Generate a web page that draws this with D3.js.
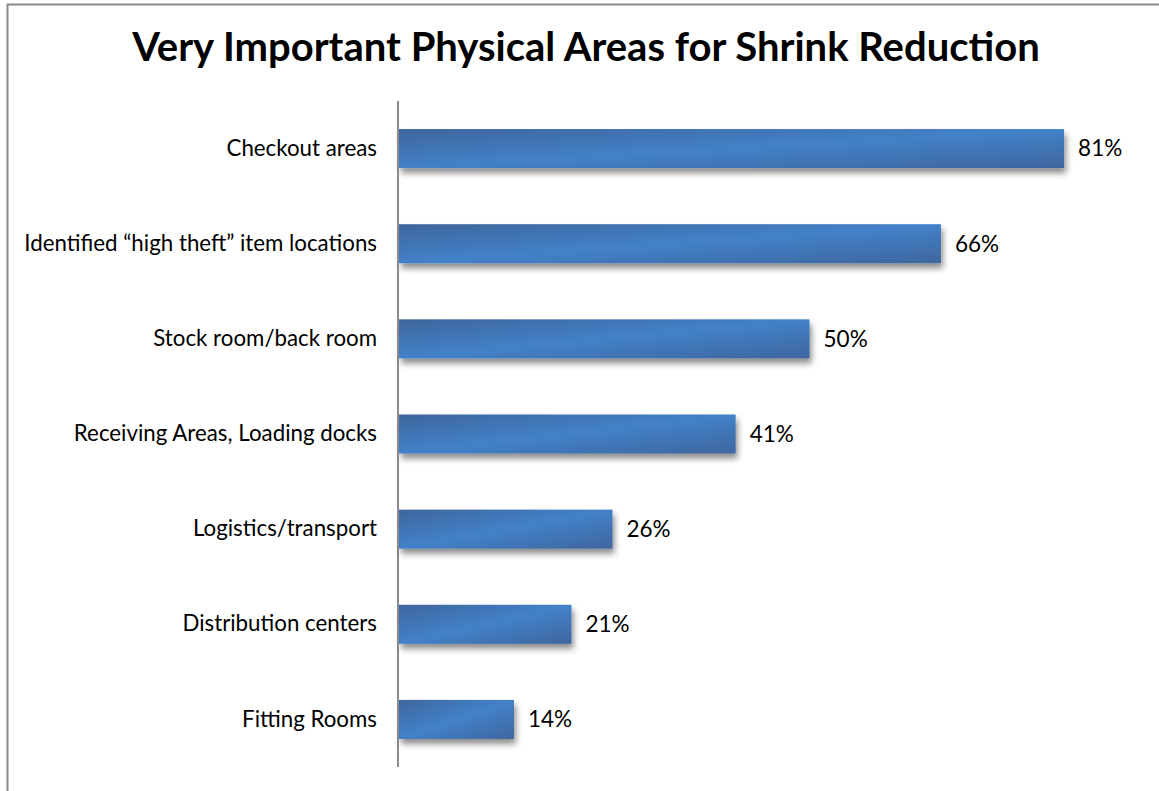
<!DOCTYPE html>
<html>
<head>
<meta charset="utf-8">
<script src="https://cdn.jsdelivr.net/npm/d3@7"></script>
<style>
  html, body { margin: 0; padding: 0; background: #fff; }
  svg { display: block; }
</style>
</head>
<body>
<svg id="chart" width="1159" height="791"></svg>
<script>
// Survey results: share of respondents rating each area "very important"
const categories = [
  "Checkout areas",
  "Identified \u201chigh theft\u201d item locations",
  "Stock room/back room",
  "Receiving Areas, Loading docks",
  "Logistics/transport",
  "Distribution centers",
  "Fitting Rooms"
];
const values = [81, 66, 50, 41, 26, 21, 14];
const valueLabels = ["81%", "66%", "50%", "41%", "26%", "21%", "14%"];
const titleText = "Very Important Physical Areas for Shrink Reduction";

const svg = d3.select("#chart");
const W = 1159, H = 791;
const fontFamily = "'Lato', 'Open Sans', sans-serif";

// Frame lines (top and left edge of the slide box)
svg.append("line").attr("x1", 7).attr("x2", W).attr("y1", 4.5).attr("y2", 4.5)
  .attr("stroke", "#8a8a8a").attr("stroke-width", 2);
svg.append("line").attr("x1", 7.5).attr("x2", 7.5).attr("y1", 4).attr("y2", H)
  .attr("stroke", "#8a8a8a").attr("stroke-width", 2);

// Title
svg.append("text")
  .attr("x", 586).attr("y", 61)
  .attr("text-anchor", "middle")
  .attr("font-family", fontFamily)
  .attr("font-weight", "bold")
  .attr("font-size", 40)
  .attr("fill", "#000")
  .text(titleText);

const margin = { top: 101, left: 399, bottom: 24 };
const x = d3.scaleLinear().domain([0, 90]).range([margin.left, margin.left + 739]);
const y = d3.scaleBand().domain(categories)
  .range([margin.top, H - margin.bottom])
  .paddingInner(0.59).paddingOuter(0.295);

const defs = svg.append("defs");
const grad = defs.append("linearGradient").attr("id", "barFill")
  .attr("x1", 0).attr("y1", 0).attr("x2", 1).attr("y2", 1);
grad.append("stop").attr("offset", 0).attr("stop-color", "#3e669c");
grad.append("stop").attr("offset", 0.5).attr("stop-color", "#4381c9");
grad.append("stop").attr("offset", 1).attr("stop-color", "#3e669e");

const shadow = defs.append("filter").attr("id", "barShadow")
  .attr("x", "-5%").attr("y", "-30%").attr("width", "115%").attr("height", "190%");
shadow.append("feDropShadow")
  .attr("dx", 2).attr("dy", 5).attr("stdDeviation", 3)
  .attr("flood-color", "#000").attr("flood-opacity", 0.45);

// Bars
svg.append("g").selectAll("rect")
  .data(values)
  .join("rect")
  .attr("x", x(0))
  .attr("y", (d, i) => y(categories[i]))
  .attr("width", d => x(d) - x(0))
  .attr("height", y.bandwidth())
  .attr("fill", "url(#barFill)")
  .attr("filter", "url(#barShadow)");

// Value labels
svg.append("g").selectAll("text")
  .data(values)
  .join("text")
  .attr("x", d => x(d) + 14)
  .attr("y", (d, i) => y(categories[i]) + y.bandwidth() / 2)
  .attr("dy", "0.35em")
  .attr("font-family", fontFamily)
  .attr("font-size", 22.5)
  .attr("fill", "#000")
  .text((d, i) => valueLabels[i]);

// Category axis
const axis = svg.append("g")
  .attr("transform", `translate(${x(0) - 1},0)`)
  .call(d3.axisLeft(y).tickSize(0).tickPadding(21));
axis.select(".domain").attr("stroke", "#8a8a8a").attr("stroke-width", 2)
  .attr("d", `M0,${margin.top}V${H - margin.bottom}`);
axis.selectAll("text")
  .attr("font-family", fontFamily)
  .attr("font-size", 22.3)
  .attr("fill", "#000");
</script>
</body>
</html>
